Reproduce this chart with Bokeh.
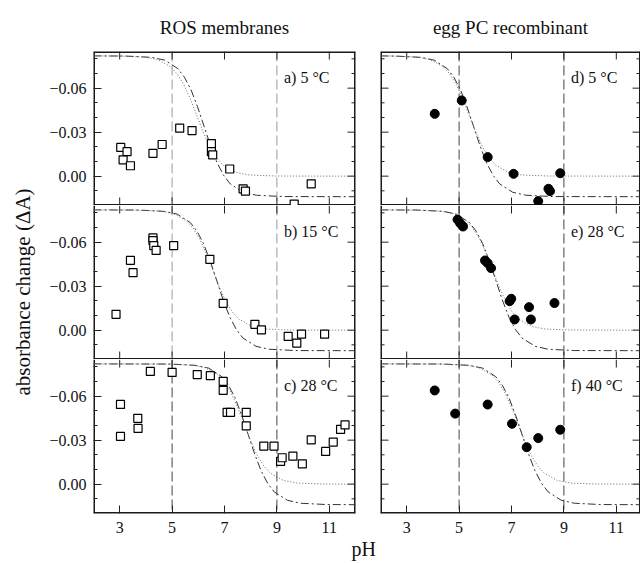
from bokeh.plotting import figure
from bokeh.models import Range1d, FixedTicker, LinearAxis, Span, Label, Title
from bokeh.layouts import column, row
from bokeh.embed import file_html
from bokeh.resources import INLINE

FONT = "Liberation Serif"

# ---------------- data ----------------
column_titles = ["ROS membranes", "egg PC recombinant"]
panel_labels = ["a) 5 °C", "b) 15 °C", "c) 28 °C", "d) 5 °C", "e) 28 °C", "f) 40 °C"]
x_axis_title = "pH"
y_axis_title = "absorbance change (ΔA)"
x_tick_values = [3, 5, 7, 9, 11]
y_tick_values = [-0.06, -0.03, 0.0]
y_tick_labels = ["−0.06", "−0.03", "0.00"]
y_minor_values = [-0.08, -0.07, -0.05, -0.04, -0.02, -0.01, 0.01]
reference_ph = [5, 9]

# ROS membranes
ros_5C_ph = [3.04, 3.13, 3.28, 3.41, 4.27, 4.62, 5.29, 5.76, 6.50, 6.50, 6.55, 7.20, 7.71, 7.80, 9.66, 10.31]
ros_5C_dA = [-0.0196, -0.0111, -0.0167, -0.0071, -0.0156, -0.0216, -0.0327, -0.0311, -0.0222, -0.0167,
             -0.0145, -0.0049, 0.0086, 0.0102, 0.0190, 0.0052]
ros_15C_ph = [2.86, 3.41, 3.51, 4.27, 4.27, 4.30, 4.39, 5.06, 6.44, 6.95, 8.16, 8.41, 9.43, 9.76, 9.94, 10.82]
ros_15C_dA = [-0.0108, -0.0476, -0.0392, -0.0629, -0.0611, -0.0577, -0.0544, -0.0577, -0.0483, -0.0183,
              -0.0040, -0.0002, 0.0043, 0.0089, 0.0027, 0.0027]
ros_28C_ph = [3.03, 3.03, 3.69, 3.70, 4.17, 5.00, 5.96, 6.46, 6.95, 6.95, 7.10, 7.23, 7.83, 7.83, 8.50,
              8.89, 9.14, 9.20, 9.61, 9.97, 10.31, 10.86, 11.15, 11.43, 11.60]
ros_28C_dA = [-0.0544, -0.0326, -0.0449, -0.0380, -0.0769, -0.0762, -0.0747, -0.0740, -0.0701, -0.0640,
              -0.0490, -0.0490, -0.0490, -0.0398, -0.0260, -0.0260, -0.0155, -0.0180, -0.0191, -0.0139,
              -0.0302, -0.0223, -0.0287, -0.0373, -0.0404]

# egg PC recombinant
pc_5C_ph = [4.07, 5.10, 6.09, 7.08, 8.02, 8.41, 8.47, 8.86]
pc_5C_dA = [-0.0425, -0.0516, -0.0130, -0.0016, 0.0170, 0.0086, 0.0102, -0.0020]
pc_28C_ph = [4.94, 5.04, 5.15, 5.99, 6.09, 6.22, 6.93, 6.99, 7.12, 7.67, 7.74, 8.64]
pc_28C_dA = [-0.0754, -0.0729, -0.0707, -0.0475, -0.0457, -0.0423, -0.0198, -0.0214, -0.0073, -0.0157,
             -0.0073, -0.0185]
pc_40C_ph = [4.07, 4.85, 6.09, 7.02, 7.58, 8.02, 8.86]
pc_40C_dA = [-0.0639, -0.0481, -0.0543, -0.0412, -0.0252, -0.0314, -0.0371]

# fitted curves (dash-dot and dotted)
dashdot_fit_y = [-0.082, -0.0819, -0.0810, -0.0791, -0.0733, -0.0675, -0.0590, -0.0474, -0.0340,
                 -0.0206, -0.0090, -0.0005, 0.0053, 0.0110, 0.0130, 0.0139, 0.014]
dotted_fit_y = [-0.082, -0.0819, -0.0812, -0.0795, -0.0745, -0.0696, -0.0623, -0.0525, -0.0410,
                -0.0295, -0.0197, -0.0124, -0.0075, -0.0025, -0.0008, -0.0001, 0.0]
fit_a_dashdot_ph = [2, 3.22, 4.22, 4.72, 5.22, 5.47, 5.72, 5.97, 6.22, 6.47, 6.72, 6.97, 7.22, 7.72, 8.22, 9.22, 12]
fit_a_dotted_ph = [2, 2.95, 3.95, 4.45, 4.95, 5.2, 5.45, 5.7, 5.95, 6.2, 6.45, 6.7, 6.95, 7.45, 7.95, 8.95, 12]
fit_b_dashdot_ph = [2, 3.7, 4.7, 5.2, 5.7, 5.95, 6.2, 6.45, 6.7, 6.95, 7.2, 7.45, 7.7, 8.2, 8.7, 9.7, 12]
fit_b_dotted_ph = [2, 3.55, 4.55, 5.05, 5.55, 5.8, 6.05, 6.3, 6.55, 6.8, 7.05, 7.3, 7.55, 8.05, 8.55, 9.55, 12]
fit_c_dashdot_ph = [2, 4.9, 5.9, 6.4, 6.9, 7.15, 7.4, 7.65, 7.9, 8.15, 8.4, 8.65, 8.9, 9.4, 9.9, 10.9, 12]
fit_c_dotted_ph = [2, 4.75, 5.75, 6.25, 6.75, 7.0, 7.25, 7.5, 7.75, 8.0, 8.25, 8.5, 8.75, 9.25, 9.75, 10.75, 12]
fit_d_dashdot_ph = [2, 2.55, 3.55, 4.05, 4.55, 4.8, 5.05, 5.3, 5.55, 5.8, 6.05, 6.3, 6.55, 7.05, 7.55, 8.55, 12]
fit_d_dotted_ph = [2, 2.4, 3.4, 3.9, 4.4, 4.65, 4.9, 5.15, 5.4, 5.65, 5.9, 6.15, 6.4, 6.9, 7.4, 8.4, 12]
fit_e_dashdot_ph = [2, 3.4, 4.4, 4.9, 5.4, 5.65, 5.9, 6.15, 6.4, 6.65, 6.9, 7.15, 7.4, 7.9, 8.4, 9.4, 12]
fit_e_dotted_ph = [2, 3.28, 4.28, 4.78, 5.28, 5.53, 5.78, 6.03, 6.28, 6.53, 6.78, 7.03, 7.28, 7.78, 8.28, 9.28, 12]
fit_f_dashdot_ph = [2, 4.4, 5.4, 5.9, 6.4, 6.65, 6.9, 7.15, 7.4, 7.65, 7.9, 8.15, 8.4, 8.9, 9.4, 10.4, 12]
fit_f_dotted_ph = [2, 4.25, 5.25, 5.75, 6.25, 6.5, 6.75, 7.0, 7.25, 7.5, 7.75, 8.0, 8.25, 8.75, 9.25, 10.25, 12]

# ---------------- layout constants ----------------
X0 = 2.0
Y_BOT, Y_TOP = 0.020, -0.085
PX_PER_PH = 26.2
FRAME_H = 154
TOP_B = 51
BOT_B = 49
STRIP_W = 40
LEFT_BL, LEFT_FW, LEFT_BR = 53, 262, 25
RIGHT_FW = 260
TOTAL_H = TOP_B + 3 * FRAME_H + BOT_B
TICK_COLOR = "#222"


def style_label_axis(ax, standoff):
    ax.axis_line_color = None
    ax.major_tick_in = 8
    ax.major_tick_out = 0
    ax.minor_tick_in = 4
    ax.minor_tick_out = 0
    ax.major_tick_line_color = TICK_COLOR
    ax.minor_tick_line_color = TICK_COLOR
    ax.major_label_text_font = FONT
    ax.major_label_text_font_size = "16px"
    ax.major_label_text_color = "#111"
    ax.major_label_standoff = standoff


def add_tick_marks(p, side, xend, fw):
    """inward tick marks on a side that carries no labels"""
    dx = (xend - X0) / fw
    dy = (Y_BOT - Y_TOP) / FRAME_H
    xs0, ys0, xs1, ys1 = [], [], [], []
    if side in ("below", "above"):
        for t in x_tick_values:
            if side == "below":
                xs0.append(t); ys0.append(Y_BOT); xs1.append(t); ys1.append(Y_BOT - 8 * dy)
            else:
                xs0.append(t); ys0.append(Y_TOP); xs1.append(t); ys1.append(Y_TOP + 8 * dy)
    else:
        ticks = [(v, 8) for v in y_tick_values] + [(v, 4) for v in y_minor_values]
        for v, ln in ticks:
            if side == "left":
                xs0.append(X0); xs1.append(X0 + ln * dx)
            else:
                xs0.append(xend); xs1.append(xend - ln * dx)
            ys0.append(v); ys1.append(v)
    p.segment(xs0, ys0, xs1, ys1, line_color=TICK_COLOR, line_width=1)


def add_frame_edges(p, xend, with_top):
    """frame border drawn on the frame edge (half clipped); the shared
    boundary between stacked rows is drawn only once"""
    x0 = [X0, xend, X0]
    y0 = [Y_BOT, Y_BOT, Y_BOT]
    x1 = [X0, xend, xend]
    y1 = [Y_TOP, Y_TOP, Y_BOT]
    if with_top:
        x0.append(X0); y0.append(Y_TOP); x1.append(xend); y1.append(Y_TOP)
    p.segment(x0, y0, x1, y1, line_color="#1a1a1a", line_width=3)


def make_panel(col, r, xs, ys, marker, dd_x, dot_x, label, ref_color):
    left = col == 0
    top = r == 0
    bottom = r == 2
    h = FRAME_H + (TOP_B if top else 0) + (BOT_B if bottom else 0)
    fw = LEFT_FW if left else RIGHT_FW
    w = (LEFT_BL + LEFT_FW + LEFT_BR) if left else RIGHT_FW
    xend = X0 + fw / PX_PER_PH
    p = figure(width=w, height=h, x_range=Range1d(X0, xend), y_range=Range1d(Y_BOT, Y_TOP),
               output_backend="svg", toolbar_location=None,
               x_axis_location=None, y_axis_location=None,
               min_border_left=LEFT_BL if left else 0, min_border_right=LEFT_BR if left else 0,
               min_border_top=TOP_B if top else 0, min_border_bottom=BOT_B if bottom else 0,
               outline_line_color=None,
               background_fill_color="white", border_fill_color="white")
    p.grid.visible = False

    for loc in reference_ph:
        p.add_layout(Span(location=loc, dimension="height", line_color=ref_color,
                          line_dash="10 4", line_width=1, level="underlay"))

    add_frame_edges(p, xend, top)

    # axes with labels / bare tick marks
    if bottom:
        xb = LinearAxis(ticker=FixedTicker(ticks=x_tick_values, minor_ticks=[]))
        style_label_axis(xb, 8)
        p.add_layout(xb, "below")
    else:
        add_tick_marks(p, "below", xend, fw)
    add_tick_marks(p, "above", xend, fw)
    if left:
        yl = LinearAxis(ticker=FixedTicker(ticks=y_tick_values, minor_ticks=y_minor_values))
        style_label_axis(yl, 7)
        yl.major_label_overrides = {v: t for v, t in zip(y_tick_values, y_tick_labels)}
        p.add_layout(yl, "left")
    else:
        add_tick_marks(p, "left", xend, fw)
    add_tick_marks(p, "right", xend, fw)

    p.line(dd_x, dashdot_fit_y, line_color="#333", line_width=1, line_dash="8 3 2 3")
    p.line(dot_x, dotted_fit_y, line_color="#666", line_width=1, line_dash="1 2")

    if marker == "square":
        p.scatter(xs, ys, marker="square", size=8, line_color="black", line_width=1.2,
                  fill_color="white")
    else:
        p.scatter(xs, ys, marker="circle", size=9, line_color="black", fill_color="black")

    p.add_layout(Label(x=9.27, y=-0.067, text=label, text_font=FONT, text_font_size="16px",
                       text_baseline="middle", text_align="left", text_color="#111"))

    if top:
        p.title.text = column_titles[col]
        p.title.align = "center"
        p.title.text_font = FONT
        p.title.text_font_size = "19px"
        p.title.text_font_style = "normal"
        p.title.text_color = "#111"
        p.title.standoff = 27
    if left and bottom:
        p.add_layout(Title(text=x_axis_title, align="left", offset=258, standoff=0,
                           text_font=FONT, text_font_size="20px", text_font_style="normal",
                           text_color="#111"), "below")
    return p


pa = make_panel(0, 0, ros_5C_ph, ros_5C_dA, "square", fit_a_dashdot_ph, fit_a_dotted_ph, panel_labels[0], "#999")
pb = make_panel(0, 1, ros_15C_ph, ros_15C_dA, "square", fit_b_dashdot_ph, fit_b_dotted_ph, panel_labels[1], "#999")
pc = make_panel(0, 2, ros_28C_ph, ros_28C_dA, "square", fit_c_dashdot_ph, fit_c_dotted_ph, panel_labels[2], "#444")
pd = make_panel(1, 0, pc_5C_ph, pc_5C_dA, "circle", fit_d_dashdot_ph, fit_d_dotted_ph, panel_labels[3], "#444")
pe = make_panel(1, 1, pc_28C_ph, pc_28C_dA, "circle", fit_e_dashdot_ph, fit_e_dotted_ph, panel_labels[4], "#444")
pf = make_panel(1, 2, pc_40C_ph, pc_40C_dA, "circle", fit_f_dashdot_ph, fit_f_dotted_ph, panel_labels[5], "#444")

# strip holding the shared y-axis title
strip = figure(width=STRIP_W, height=TOTAL_H, output_backend="svg", toolbar_location=None,
               x_axis_location=None, y_axis_location=None, outline_line_color=None,
               min_border_left=34, min_border_right=0, min_border_top=0, min_border_bottom=0,
               x_range=Range1d(0, 1), y_range=Range1d(0, 1),
               background_fill_color="white", border_fill_color="white")
strip.grid.visible = False
strip.add_layout(Title(text=y_axis_title, align="left", offset=167, standoff=0,
                       text_font=FONT, text_font_size="21px", text_font_style="normal",
                       text_color="#111"), "left")

grid = column(row(pa, pd), row(pb, pe), row(pc, pf))
layout = row(strip, grid)

with open("out.html", "w") as fh:
    fh.write(file_html(layout, INLINE, title="absorbance change vs pH"))
